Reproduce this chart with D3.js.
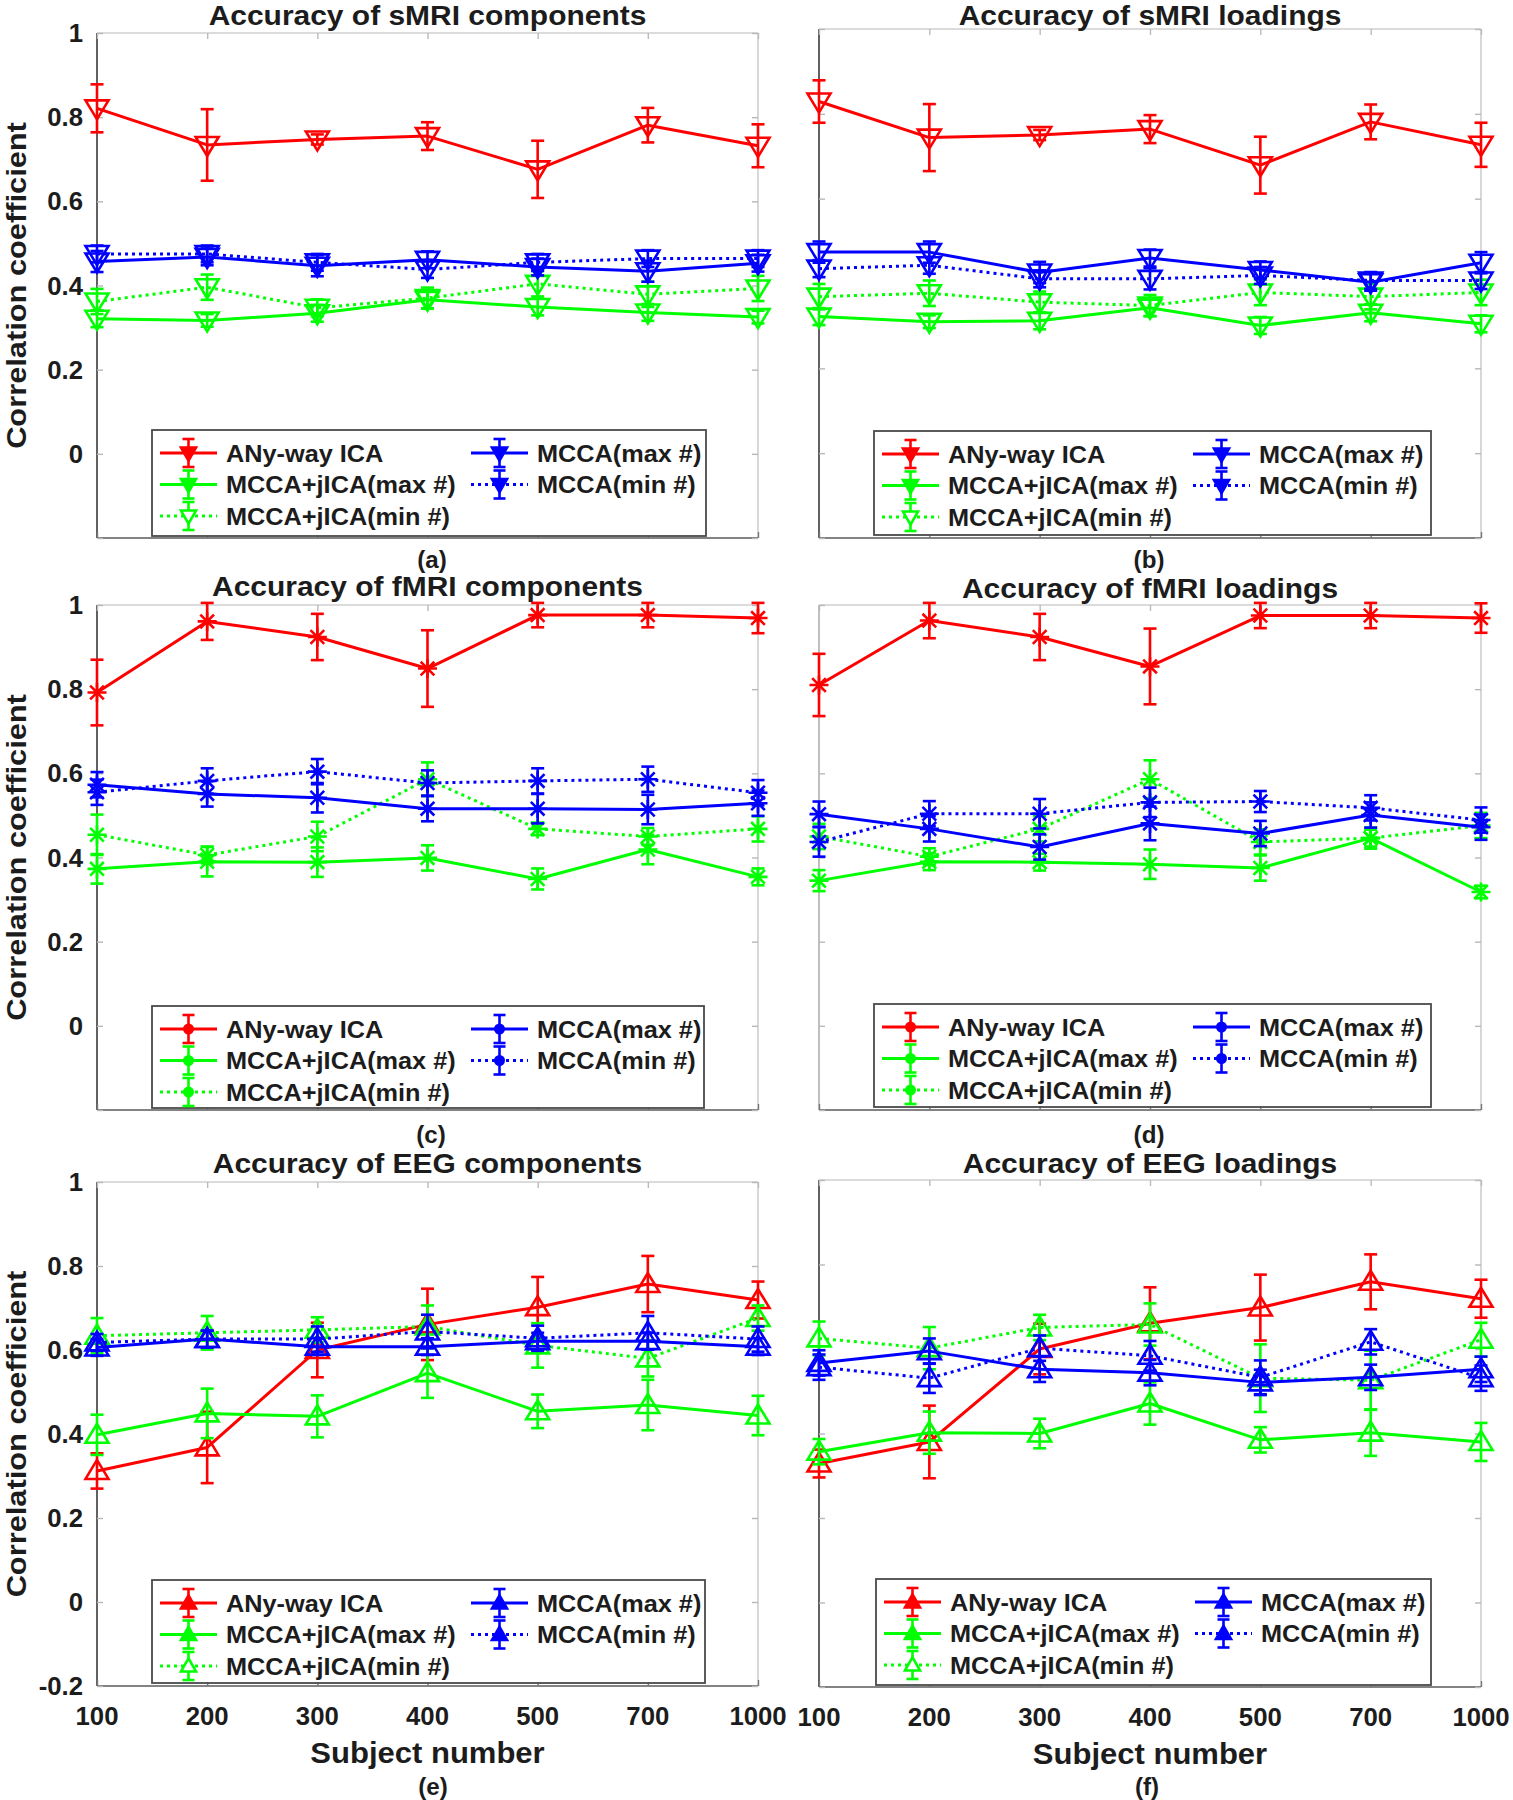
<!DOCTYPE html>
<html><head><meta charset="utf-8">
<script src="https://cdn.jsdelivr.net/npm/d3@7"></script>
<style>
body{margin:0;background:#fff}
svg text{font-family:"Liberation Sans",Arial,Helvetica,sans-serif;font-weight:bold;fill:#1c1c1c}
</style>
</head><body>
<svg id="chart" width="1513" height="1800"></svg>
<script>
// ---------------- DATA ----------------
const subjects = ["100","200","300","400","500","700","1000"];
const seriesNames = ["ANy-way ICA","MCCA+jICA(max #)","MCCA+jICA(min #)","MCCA(max #)","MCCA(min #)"];
const yTickValues = [-0.2,0,0.2,0.4,0.6,0.8,1];
const yTickLabels = ["-0.2","0","0.2","0.4","0.6","0.8","1"];
const panelTitles = ["Accuracy of sMRI components","Accuracy of sMRI loadings","Accuracy of fMRI components","Accuracy of fMRI loadings","Accuracy of EEG components","Accuracy of EEG loadings"];
const panelLetters = ["(a)","(b)","(c)","(d)","(e)","(f)"];
const xAxisTitle = "Subject number";
const yAxisTitle = "Correlation coefficient";

// series order: ANy-way ICA, MCCA+jICA(max #), MCCA+jICA(min #), MCCA(max #), MCCA(min #)
const smriCompMean = [
  [0.821,0.734,0.747,0.755,0.676,0.781,0.732],
  [0.321,0.317,0.334,0.366,0.349,0.336,0.325],
  [0.362,0.396,0.347,0.370,0.404,0.379,0.393],
  [0.457,0.468,0.447,0.461,0.444,0.434,0.453],
  [0.475,0.475,0.455,0.438,0.455,0.464,0.464]];
const smriCompErr = [
  [0.057,0.085,0.012,0.033,0.068,0.041,0.051],
  [0.020,0.015,0.020,0.020,0.020,0.020,0.015],
  [0.030,0.030,0.020,0.025,0.030,0.030,0.030],
  [0.025,0.020,0.025,0.020,0.020,0.025,0.020],
  [0.020,0.020,0.020,0.020,0.020,0.020,0.020]];

const smriLoadMean = [
  [0.829,0.744,0.750,0.764,0.679,0.781,0.727],
  [0.322,0.310,0.312,0.343,0.301,0.331,0.305],
  [0.369,0.377,0.356,0.348,0.379,0.369,0.379],
  [0.474,0.474,0.426,0.460,0.432,0.403,0.449],
  [0.435,0.443,0.411,0.411,0.419,0.407,0.407]];
const smriLoadErr = [
  [0.050,0.079,0.012,0.033,0.067,0.041,0.052],
  [0.020,0.015,0.020,0.020,0.020,0.020,0.020],
  [0.030,0.030,0.025,0.025,0.030,0.030,0.030],
  [0.025,0.025,0.025,0.020,0.020,0.020,0.025],
  [0.020,0.020,0.020,0.025,0.020,0.020,0.020]];

const fmriCompMean = [
  [0.792,0.961,0.924,0.849,0.976,0.976,0.969],
  [0.373,0.390,0.389,0.399,0.349,0.419,0.354],
  [0.454,0.406,0.450,0.586,0.468,0.450,0.468],
  [0.573,0.551,0.542,0.516,0.516,0.514,0.529],
  [0.555,0.582,0.604,0.577,0.582,0.586,0.554]];
const fmriCompErr = [
  [0.078,0.044,0.055,0.091,0.029,0.029,0.036],
  [0.035,0.035,0.035,0.030,0.025,0.035,0.020],
  [0.048,0.020,0.035,0.040,0.015,0.020,0.030],
  [0.030,0.030,0.035,0.030,0.035,0.035,0.030],
  [0.030,0.030,0.030,0.030,0.030,0.030,0.030]];

const fmriLoadMean = [
  [0.810,0.963,0.924,0.854,0.975,0.975,0.969],
  [0.345,0.390,0.389,0.384,0.375,0.446,0.318],
  [0.450,0.402,0.468,0.586,0.437,0.446,0.476],
  [0.503,0.468,0.425,0.481,0.457,0.501,0.472],
  [0.437,0.504,0.504,0.531,0.533,0.518,0.489]];
const fmriLoadErr = [
  [0.074,0.042,0.055,0.090,0.030,0.030,0.035],
  [0.025,0.020,0.020,0.035,0.030,0.020,0.015],
  [0.030,0.020,0.030,0.045,0.030,0.025,0.030],
  [0.030,0.030,0.030,0.040,0.030,0.030,0.030],
  [0.035,0.030,0.035,0.035,0.025,0.030,0.030]];

const eegCompMean = [
  [0.312,0.368,0.600,0.661,0.702,0.757,0.719],
  [0.398,0.449,0.442,0.545,0.454,0.469,0.444],
  [0.634,0.641,0.648,0.656,0.611,0.580,0.676],
  [0.606,0.626,0.608,0.608,0.621,0.621,0.608],
  [0.618,0.626,0.626,0.644,0.628,0.641,0.626]];
const eegCompErr = [
  [0.042,0.085,0.065,0.085,0.072,0.067,0.044],
  [0.048,0.059,0.050,0.059,0.040,0.060,0.047],
  [0.042,0.040,0.030,0.050,0.053,0.043,0.030],
  [0.020,0.020,0.020,0.020,0.020,0.020,0.020],
  [0.020,0.020,0.030,0.040,0.030,0.040,0.030]];

const eegLoadMean = [
  [0.329,0.380,0.600,0.661,0.698,0.759,0.719],
  [0.357,0.402,0.400,0.471,0.385,0.402,0.380],
  [0.625,0.602,0.651,0.658,0.531,0.526,0.622],
  [0.567,0.595,0.552,0.544,0.521,0.533,0.552],
  [0.557,0.531,0.602,0.584,0.533,0.617,0.531]];
const eegLoadErr = [
  [0.033,0.086,0.060,0.085,0.078,0.065,0.045],
  [0.030,0.050,0.035,0.050,0.030,0.055,0.045],
  [0.040,0.050,0.030,0.050,0.080,0.070,0.040],
  [0.030,0.030,0.030,0.030,0.030,0.030,0.030],
  [0.030,0.035,0.030,0.035,0.040,0.030,0.030]];

// ---------------- STYLE / LAYOUT ----------------
const seriesColors = ["#ff0000","#00ff00","#00ff00","#0000ff","#0000ff"];
const seriesDash = [null,null,"3,4",null,"3,4"];
const FONT_STRETCH = {title:1.07, tick:1.03, legend:1.1, label:1.1, letter:1.05};

const panels = [
  {mean:smriCompMean, err:smriCompErr, x0:97, x1:758, y0:33, y1:538, tb:25, marker:"down", yLabels:true, xLabels:false, leg:[152,430,706,536], lx:432, ly:568},
  {mean:smriLoadMean, err:smriLoadErr, x0:819, x1:1481, y0:29, y1:538, tb:25, marker:"down", yLabels:false, xLabels:false, leg:[874,431,1431,535], lx:1149, ly:568},
  {mean:fmriCompMean, err:fmriCompErr, x0:97, x1:758, y0:605, y1:1110, tb:596, marker:"star", yLabels:true, xLabels:false, leg:[152,1006,704,1108], lx:431, ly:1143},
  {mean:fmriLoadMean, err:fmriLoadErr, x0:819, x1:1481, y0:605, y1:1110, tb:598, marker:"star", yLabels:false, xLabels:false, leg:[874,1004,1431,1107], lx:1149, ly:1143},
  {mean:eegCompMean, err:eegCompErr, x0:97, x1:758, y0:1182, y1:1686, tb:1173, marker:"up", yLabels:true, xLabels:true, leg:[152,1580,705,1683], lx:433, ly:1795},
  {mean:eegLoadMean, err:eegLoadErr, x0:819, x1:1481, y0:1180, y1:1687, tb:1173, marker:"up", yLabels:false, xLabels:true, leg:[876,1579,1431,1685], lx:1147, ly:1795}
];

const svg = d3.select("#chart");

function stext(g, x, y, s, size, anchor, stretch, rot) {
  return g.append("text")
    .attr("transform", `translate(${x},${y})` + (rot ? ` rotate(${rot})` : "") + ` scale(${stretch},1)`)
    .attr("font-size", size)
    .attr("text-anchor", anchor)
    .text(s);
}

function markerPath(kind, w, h) {
  if (kind === "down") return `M${-w/2},${-h*0.42}L${w/2},${-h*0.42}L0,${h*0.58}Z`;
  if (kind === "up") return `M${-w/2},${h*0.42}L${w/2},${h*0.42}L0,${-h*0.58}Z`;
  // asterisk
  const r = w/2, d = r*0.72;
  return `M${-r},0L${r},0M0,${-r}L0,${r}M${-d},${-d}L${d},${d}M${-d},${d}L${d},${-d}`;
}

function drawErr(g, x, yTop, yBot, color, cap) {
  g.append("line").attr("x1",x).attr("x2",x).attr("y1",yTop).attr("y2",yBot)
    .attr("stroke",color).attr("stroke-width",2.6);
  [yTop,yBot].forEach(yy => g.append("line").attr("x1",x-cap/2).attr("x2",x+cap/2)
    .attr("y1",yy).attr("y2",yy).attr("stroke",color).attr("stroke-width",2.6));
}

panels.forEach((p, pi) => {
  const g = svg.append("g");
  const x = d3.scalePoint().domain(subjects).range([p.x0, p.x1]).padding(0);
  const y = d3.scaleLinear().domain([-0.2, 1]).range([p.y1, p.y0]);

  // box: top/right light, left/bottom dark
  g.append("line").attr("x1",p.x0).attr("x2",p.x1).attr("y1",p.y0).attr("y2",p.y0).attr("stroke","#cfcfcf").attr("stroke-width",1.6);
  g.append("line").attr("x1",p.x1).attr("x2",p.x1).attr("y1",p.y0).attr("y2",p.y1).attr("stroke","#cfcfcf").attr("stroke-width",1.6);
  g.append("line").attr("x1",p.x0).attr("x2",p.x0).attr("y1",p.y0).attr("y2",p.y1).attr("stroke", pi===3 ? "#b0b0b0" : "#3a3a3a").attr("stroke-width",1.6);
  g.append("line").attr("x1",p.x0).attr("x2",p.x1).attr("y1",p.y1).attr("y2",p.y1).attr("stroke","#5a5a5a").attr("stroke-width",1.6);

  // y axes (left + right) with inward ticks
  const yAxisL = d3.axisLeft(y).tickValues(yTickValues).tickSizeInner(-6).tickSizeOuter(0)
    .tickFormat((d,i) => yTickLabels[i]);
  const gl = g.append("g").attr("transform",`translate(${p.x0},0)`).call(yAxisL);
  gl.select(".domain").remove();
  gl.selectAll(".tick line").attr("stroke","#b8b8b8").attr("stroke-width",1.4);
  gl.selectAll(".tick text").remove();
  const yAxisR = d3.axisRight(y).tickValues(yTickValues).tickSizeInner(-6).tickSizeOuter(0).tickFormat("");
  const gr = g.append("g").attr("transform",`translate(${p.x1},0)`).call(yAxisR);
  gr.select(".domain").remove();
  gr.selectAll(".tick line").attr("stroke","#b8b8b8").attr("stroke-width",1.4);

  // x axes (bottom + top) inward ticks
  const xAxisB = d3.axisBottom(x).tickSizeInner(-6).tickSizeOuter(0).tickFormat("");
  const gb = g.append("g").attr("transform",`translate(0,${p.y1})`).call(xAxisB);
  gb.select(".domain").remove();
  gb.selectAll(".tick line").attr("stroke","#777").attr("stroke-width",1.4);
  const xAxisT = d3.axisTop(x).tickSizeInner(-6).tickSizeOuter(0).tickFormat("");
  const gt = g.append("g").attr("transform",`translate(0,${p.y0})`).call(xAxisT);
  gt.select(".domain").remove();
  gt.selectAll(".tick line").attr("stroke","#bbb").attr("stroke-width",1.4);

  // y tick labels
  if (p.yLabels) {
    yTickValues.forEach((v,i) => {
      if (v < 0 && !p.xLabels) return;
      stext(g, p.x0 - 14, y(v) + 9, yTickLabels[i], 25, "end", FONT_STRETCH.tick);
    });
    stext(g, 26, (p.y0 + p.y1)/2, yAxisTitle, 28, "middle", FONT_STRETCH.label, -90);
  }
  if (p.xLabels) {
    subjects.forEach(s => stext(g, x(s), p.y1 + 39, s, 25, "middle", FONT_STRETCH.tick));
    stext(g, (p.x0 + p.x1)/2, p.y1 + 77, xAxisTitle, 29, "middle", 1.07);
  }

  // title + panel letter
  stext(g, (p.x0 + p.x1)/2, p.tb, panelTitles[pi], 28, "middle", FONT_STRETCH.title);
  stext(g, p.lx, p.ly, panelLetters[pi], 23, "middle", FONT_STRETCH.letter);

  // series
  const line = d3.line().x((d,i) => x(subjects[i])).y(d => y(d));
  const mw = p.marker === "star" ? 19 : 23, mh = p.marker === "star" ? 19 : 19;
  p.mean.forEach((vals, si) => {
    const col = seriesColors[si];
    const sg = g.append("g");
    vals.forEach((v,i) => drawErr(sg, x(subjects[i]), y(v + p.err[si][i]), y(v - p.err[si][i]), col, 13));
    sg.append("path").attr("d", line(vals)).attr("fill","none").attr("stroke",col)
      .attr("stroke-width",3).attr("stroke-dasharray", seriesDash[si]).attr("stroke-linejoin","round");
    vals.forEach((v,i) => sg.append("path").attr("d", markerPath(p.marker, mw, mh))
      .attr("transform",`translate(${x(subjects[i])},${y(v)})`)
      .attr("fill","none").attr("stroke",col).attr("stroke-width",2.6));
  });

  // legend
  const [lx0, ly0, lx1, ly1] = p.leg;
  const lg = g.append("g");
  lg.append("rect").attr("x",lx0).attr("y",ly0).attr("width",lx1-lx0).attr("height",ly1-ly0)
    .attr("fill","#fff").attr("stroke","#4a4a4a").attr("stroke-width",1.8);
  const slots = [[0,0],[0,1],[0,2],[1,0],[1,1]];
  seriesNames.forEach((name, si) => {
    const [c, r] = slots[si];
    const bx = lx0 + (c === 0 ? 8 : 319);
    const cy = ly0 + 23 + r * 31.5;
    const col = seriesColors[si];
    lg.append("line").attr("x1",bx).attr("x2",bx+57).attr("y1",cy).attr("y2",cy)
      .attr("stroke",col).attr("stroke-width",3).attr("stroke-dasharray",seriesDash[si]);
    drawErr(lg, bx+28.5, cy-14, cy+14, col, 12);
    if (p.marker === "star") {
      lg.append("circle").attr("cx",bx+28.5).attr("cy",cy).attr("r",5.5).attr("fill",col);
    } else {
      lg.append("path").attr("d", markerPath(p.marker, 15, 13))
        .attr("transform",`translate(${bx+28.5},${cy})`)
        .attr("fill", si === 2 ? "#fff" : col).attr("stroke",col).attr("stroke-width",2.6);
    }
    stext(lg, bx + 66, cy + 8.5, name, 23, "start", FONT_STRETCH.legend);
  });
});
</script>
</body></html>
